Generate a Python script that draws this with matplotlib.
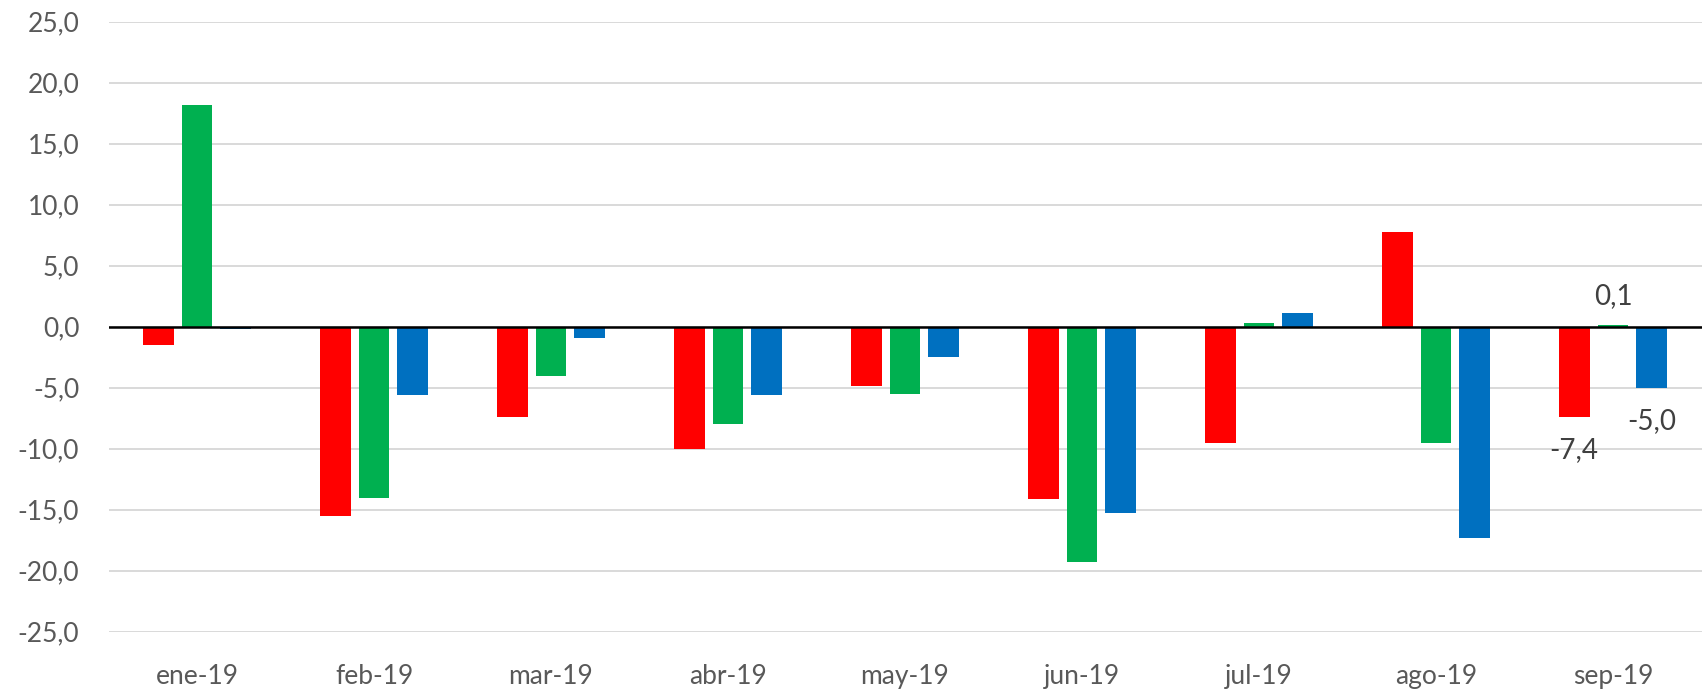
import matplotlib
matplotlib.use("Agg")
import matplotlib.pyplot as plt
import numpy as np

categories = ["ene-19", "feb-19", "mar-19", "abr-19", "may-19", "jun-19", "jul-19", "ago-19", "sep-19"]
serie_roja = [-1.5, -15.5, -7.4, -10.0, -4.9, -14.1, -9.5, 7.8, -7.4]
serie_verde = [18.2, -14.0, -4.0, -8.0, -5.5, -19.3, 0.3, -9.5, 0.1]
serie_azul = [-0.2, -5.6, -0.9, -5.6, -2.5, -15.3, 1.1, -17.3, -5.0]
y_ticks = [-25, -20, -15, -10, -5, 0, 5, 10, 15, 20, 25]

series = [serie_roja, serie_verde, serie_azul]
colors = ["#FF0000", "#00B050", "#0070C0"]

plt.rcParams['font.family'] = ['Lato', 'DejaVu Sans']

fig = plt.figure(figsize=(17.04, 6.91), dpi=100)
ax = fig.add_axes([108.5 / 1704, 1 - 631.7 / 691, (1701.5 - 108.5) / 1704, (631.7 - 21.7) / 691])

x = np.arange(len(categories))
width = 0.175
offset = 0.22
for i, (vals, c) in enumerate(zip(series, colors)):
    ax.bar(x + (i - 1) * offset, vals, width, color=c, zorder=3)

ax.set_xlim(-0.5, len(categories) - 0.5)
ax.set_ylim(-25, 25)
ax.set_yticks(y_ticks)
ax.set_yticklabels([f"{v:.1f}".replace(".", ",") for v in y_ticks])
ax.set_xticks(x)
ax.set_xticklabels(categories)

ax.grid(axis='y', color='#D9D9D9', linewidth=1.4, zorder=0)
ax.axhline(0, color='black', linewidth=1.8, zorder=4)
for s in ax.spines.values():
    s.set_visible(False)
ax.tick_params(axis='both', length=0, labelsize=19, labelcolor='#595959')
ax.tick_params(axis='y', pad=21)
ax.tick_params(axis='x', pad=23)

# data labels for last category
last = len(categories) - 1
label_color = '#404040'
for i, vals in enumerate(series):
    v = vals[last]
    xpos = x[last] + (i - 1) * offset
    txt = f"{v:.1f}".replace(".", ",")
    dy = 21 if v >= 0 else -24
    ax.annotate(txt, (xpos, v), xytext=(0, dy), textcoords='offset points',
                ha='center', va='center', fontsize=20, color=label_color, zorder=5)

fig.savefig("out.png", dpi=100)
